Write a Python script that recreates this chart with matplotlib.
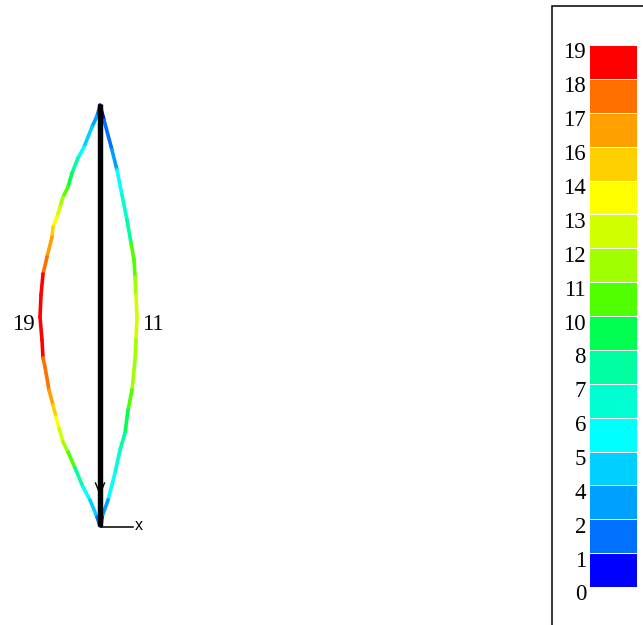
"""Pressure distribution on a lens shaped section, with the level legend on the right"""

import matplotlib
matplotlib.use('Agg')
import matplotlib.pyplot as plt
from matplotlib.collections import LineCollection
from matplotlib.colors import ListedColormap
import numpy as np

# contour level labels, bottom to top
level_labels = [0, 1, 2, 4, 5, 6, 7, 8, 10, 11, 12, 13, 14, 16, 17, 18, 19]
band_colors = ['#0000ff', '#0070ff', '#00a0ff', '#00d0ff', '#00ffff', '#00ffd0',
               '#00ffa0', '#00ff50', '#50ff00', '#a0ff00', '#d0ff00', '#ffff00',
               '#ffd000', '#ffa000', '#ff7000', '#ff0000']

# left side of the section, top to bottom, with band index per point
left_x = [100, 97, 92, 84, 78, 72, 68, 63, 60, 57, 53, 52, 47, 43, 41, 40, 42, 43, 45, 49, 53, 56,
          59, 63, 68, 75, 83, 90, 97, 100]
left_y = [106, 116, 127, 147, 158, 173, 187, 197, 207, 217, 227, 237, 257, 274, 295, 317, 340,
          358, 367, 390, 405, 417, 428, 442, 452, 468, 487, 500, 517, 526]
left_band = [1, 2, 3, 4, 6, 7, 8, 9, 10, 11, 12, 13, 14, 15, 15, 15, 15, 14, 14, 13, 12, 11, 10,
             9, 8, 6, 4, 3, 1, 1]

# right side of the section, top to bottom
right_x = [100, 104, 112, 117, 122, 127, 131, 134, 135, 136, 137, 136, 135, 132, 128, 125,
           120, 115, 108, 102, 101]
right_y = [105, 120, 150, 170, 195, 220, 243, 260, 277, 295, 317, 340, 360, 390, 410, 433,
           450, 473, 500, 517, 526]
right_band = [0, 1, 2, 4, 5, 6, 8, 8, 9, 10, 10, 9, 9, 8, 7, 6, 5, 4, 2, 0, 0]

chord_x = [100, 100]
chord_y = [104, 526]
peak_labels = ['19', '11']


def section_line(xs, ys, bands, cmap):
    pts = np.column_stack([xs, ys])
    segs = np.stack([pts[:-1], pts[1:]], axis=1)
    lc = LineCollection(segs, cmap=cmap, linewidths=2.6, capstyle='round')
    lc.set_array(np.array(bands[:-1]))
    lc.set_clim(-0.5, len(band_colors) - 0.5)
    return lc


fig = plt.figure(figsize=(6.43, 6.25), dpi=100)
plt.rcParams['font.family'] = ['Liberation Serif', 'DejaVu Serif']

# main view in picture pixels
ax = fig.add_axes([0, 0, 1, 1])
ax.set_xlim(0, 643)
ax.set_ylim(625, 0)
ax.axis('off')

cmap = ListedColormap(band_colors)
ax.add_collection(section_line(left_x, left_y, left_band, cmap))
ax.add_collection(section_line(right_x, right_y, right_band, cmap))

# chord and y axis arrow
ax.plot(chord_x, chord_y, color='black', lw=3.9, solid_capstyle='butt', zorder=3)
ax.plot([95.5, 100, 104.5], [483, 494, 483], color='black', lw=1.0, zorder=4)

# x axis stub
ax.plot([101, 133], [527, 527], color='black', lw=1.1, zorder=3)
ax.text(135, 526, 'x', family='Liberation Sans', fontsize=11.5, va='center', ha='left')

ax.text(34.5, 325, peak_labels[0], fontsize=16.5, ha='right', va='center')
ax.text(142, 325, peak_labels[1], fontsize=16.5, ha='left', va='center')

# legend frame
ax.plot([552, 552, 643], [625, 6, 6], color='black', lw=1.1, solid_joinstyle='miter')

# legend bands
leg = fig.add_axes([589 / 643, 1 - 587 / 625, 48 / 643, 542 / 625])
leg.set_xlim(0, 1)
leg.set_ylim(0, len(band_colors))
leg.axis('off')
leg.bar(np.full(len(band_colors), 0.5), np.ones(len(band_colors)), width=1,
        bottom=np.arange(len(band_colors)), color=band_colors, edgecolor='white', linewidth=0.7)

for i, lab in enumerate(level_labels):
    leg.annotate(str(lab), xy=(0, i), xytext=(-3, -8), textcoords='offset pixels',
                 fontsize=16.5, ha='right', va='center', annotation_clip=False)

fig.savefig('out.png', dpi=100)
